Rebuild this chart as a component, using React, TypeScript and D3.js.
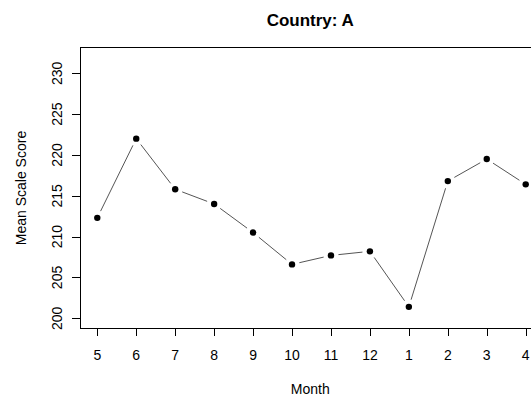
import * as d3 from "d3";

const months = ["5", "6", "7", "8", "9", "10", "11", "12", "1", "2", "3", "4"];
const scores = [212.3, 222.0, 215.8, 214.0, 210.5, 206.6, 207.7, 208.2, 201.4, 216.8, 219.5, 216.4];
const yTicks = [200, 205, 210, 215, 220, 225, 230];

const width = 531;
const height = 400;
const box = { left: 80.5, top: 47.5, right: 540, bottom: 328.5 };
const font = "'Liberation Sans', Arial, sans-serif";

export default function App() {
  const x = d3
    .scalePoint<string>()
    .domain(months)
    .range([97.3, 525.7]);

  const y = d3.scaleLinear().domain([200, 230]).range([318.3, 73.3]);

  const pts = months.map((m, i) => ({ px: x(m) || 0, py: y(scores[i]) }));

  // type = "b": segments stop short of the points
  const gap = 7.5;
  const segments = pts.slice(1).map((p, i) => {
    const a = pts[i];
    const dx = p.px - a.px;
    const dy = p.py - a.py;
    const len = Math.sqrt(dx * dx + dy * dy);
    if (len <= gap * 2) return null;
    const ux = dx / len;
    const uy = dy / len;
    return {
      x1: a.px + ux * gap,
      y1: a.py + uy * gap,
      x2: p.px - ux * gap,
      y2: p.py - uy * gap,
    };
  });

  const midX = (box.left + box.right) / 2;

  return (
    <svg
      width={width}
      height={height}
      style={{ position: "absolute", left: 0, top: 0, background: "white" }}
      fontFamily={font}
    >
      <rect width={width} height={height} fill="white" />

      {/* Title */}
      <text x={midX} y={26} textAnchor="middle" fontSize={17} fontWeight="bold" fill="#000">
        Country: A
      </text>

      {/* Plot box */}
      <rect
        x={box.left}
        y={box.top}
        width={box.right - box.left}
        height={box.bottom - box.top}
        fill="none"
        stroke="#000"
        strokeWidth={1}
      />

      {/* Y axis */}
      {yTicks.map((t) => (
        <g key={t}>
          <line x1={72} x2={box.left} y1={Math.round(y(t)) + 0.5} y2={Math.round(y(t)) + 0.5} stroke="#000" />
          <text
            transform={`translate(62, ${y(t)}) rotate(-90)`}
            textAnchor="middle"
            fontSize={14}
            fill="#000"
          >
            {t}
          </text>
        </g>
      ))}
      <text
        transform={`translate(26, 188) rotate(-90)`}
        textAnchor="middle"
        fontSize={14}
        fill="#000"
      >
        Mean Scale Score
      </text>

      {/* X axis */}
      {months.map((m) => {
        const px = Math.round(x(m) || 0) + 0.5;
        return (
          <g key={m}>
            <line x1={px} x2={px} y1={box.bottom} y2={336} stroke="#000" />
            <text x={x(m)} y={360} textAnchor="middle" fontSize={14} fill="#000">
              {m}
            </text>
          </g>
        );
      })}
      <text x={midX} y={394} textAnchor="middle" fontSize={14} fill="#000">
        Month
      </text>

      {/* Lines */}
      {segments.map((s, i) =>
        s ? (
          <line key={i} x1={s.x1} y1={s.y1} x2={s.x2} y2={s.y2} stroke="#555" strokeWidth={1} />
        ) : null
      )}

      {/* Points */}
      {pts.map((p, i) => (
        <circle key={i} cx={p.px} cy={p.py} r={3.2} fill="#000" />
      ))}
    </svg>
  );
}
